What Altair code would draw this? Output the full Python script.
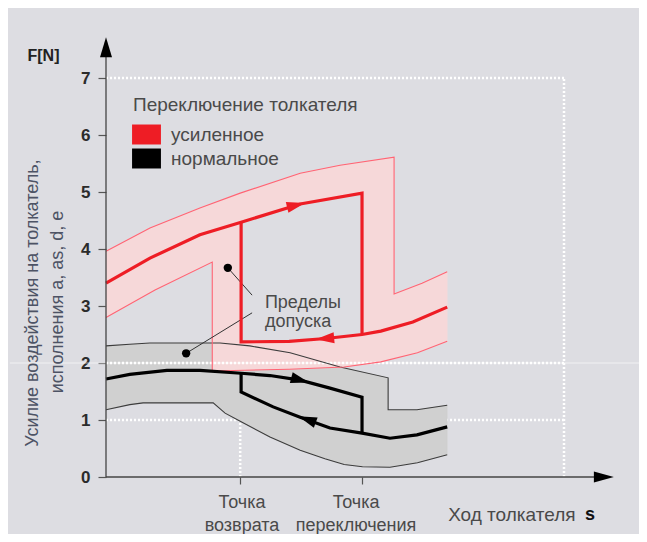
import altair as alt
import pandas as pd

# ---------------- data (s = plunger travel, arbitrary units; F in N) ----------------
S_RETURN = 2.95      # "Точка возврата"
S_SWITCH = 5.59      # "Точка переключения"

# reinforced switching (red) – working curve
RED_UP_S = [0.0, 0.96, 2.05, 2.95, 4.24, 5.59]
RED_UP_F = [3.40, 3.84, 4.25, 4.47, 4.79, 4.98]
RED_LO_S = [2.95, 4.0, 4.8, 5.59, 6.0, 6.7, 7.45]
RED_LO_F = [2.37, 2.38, 2.43, 2.50, 2.56, 2.72, 2.98]
# reinforced – tolerance band limits
RED_TOL_TOP_S = [0.0, 0.96, 2.05, 2.93, 4.24, 5.11, 6.29, 6.29, 6.9, 7.45]
RED_TOL_TOP_F = [3.96, 4.37, 4.72, 4.98, 5.33, 5.47, 5.61, 3.21, 3.40, 3.60]
RED_TOL_BOT_S = [0.0, 1.07, 2.32, 2.32, 4.0, 5.2, 6.0, 6.8, 7.45]
RED_TOL_BOT_F = [2.80, 3.28, 3.77, 1.86, 1.89, 1.93, 2.02, 2.18, 2.38]

# normal switching (black) – working curve
BLK_UP_S = [0.0, 0.52, 1.33, 2.05, 2.95, 3.58, 4.24, 4.89, 5.59]
BLK_UP_F = [1.72, 1.80, 1.87, 1.87, 1.82, 1.78, 1.70, 1.56, 1.40]
BLK_LO_S = [2.95, 3.65, 4.24, 4.89, 5.59, 6.20, 6.79, 7.45]
BLK_LO_F = [1.49, 1.23, 1.05, 0.86, 0.77, 0.68, 0.74, 0.88]
# normal – tolerance band limits
BLK_TOL_TOP_S = [0.0, 0.52, 0.96, 2.49, 3.14, 4.02, 5.11, 6.16, 6.16, 6.79, 7.45]
BLK_TOL_TOP_F = [2.30, 2.33, 2.35, 2.35, 2.30, 2.18, 1.93, 1.74, 1.18, 1.18, 1.26]
BLK_TOL_BOT_S = [0.0, 0.52, 0.81, 2.34, 2.6, 2.93, 3.58, 4.24, 4.78, 5.2, 5.6, 6.2, 6.8, 7.45]
BLK_TOL_BOT_F = [1.18, 1.27, 1.30, 1.30, 1.12, 0.98, 0.70, 0.47, 0.32, 0.22, 0.18, 0.17, 0.25, 0.39]

# direction arrows on the working curves
ARROW_SERIES = ["усиленное", "усиленное", "нормальное", "нормальное"]
ARROW_S = [4.15, 4.78, 4.24, 4.39]
ARROW_F = [4.77, 2.43, 1.70, 1.01]
ARROW_DIR = [346, 175, 15, 200]

# "Пределы допуска" pointers
TOL_DOT_S = [2.66, 1.75]
TOL_DOT_F = [3.67, 2.17]
TOL_END_S = [3.19, 3.19]
TOL_END_F = [3.19, 2.88]

Y_TICKS = [0, 1, 2, 3, 4, 5, 6, 7]
X_TICKS = [2.93, S_SWITCH]
SERIES = ["усиленное", "нормальное"]

# ---------------- styling ----------------
FONT = "Liberation Sans"
BG = "#dddde2"
PINK = "#f6d8d9"
GRAYBAND = "#d0d0d0"
RED = "#ee1d25"
RED_THIN = "#ff6474"
TXT = "#4a4a4a"

XS = alt.Scale(domain=[0, 10], nice=False, zero=False)
YS = alt.Scale(domain=[0, 7], nice=False, zero=False)


def enc_xy():
    return dict(x=alt.X("s:Q", scale=XS), y=alt.Y("f:Q", scale=YS))


def path(ss, ff, **mk):
    df = pd.DataFrame({"s": ss, "f": ff, "i": list(range(len(ss)))})
    return alt.Chart(df).mark_line(interpolate="linear", **mk).encode(
        order=alt.Order("i:Q"), **enc_xy())


def polygon(ss, ff, color):
    df = pd.DataFrame({"s": ss, "f": ff, "i": list(range(len(ss)))})
    return alt.Chart(df).mark_line(interpolate="linear-closed", fill=color, stroke=color,
                                   strokeWidth=0.5, fillOpacity=1).encode(
        order=alt.Order("i:Q"), **enc_xy())


def seg(s1, f1, s2, f2, **mk):
    df = pd.DataFrame({"s": [s1], "f": [f1], "s2": [s2], "f2": [f2]})
    return alt.Chart(df).mark_rule(**mk).encode(x2="s2:Q", y2="f2:Q", **enc_xy())


def label(s, f, txt, **mk):
    df = pd.DataFrame({"s": [s], "f": [f], "t": [txt]})
    base = dict(font=FONT, fontSize=18, color=TXT)
    base.update(mk)
    return alt.Chart(df).mark_text(**base).encode(text="t:N", **enc_xy())


def lookup(ss, ff, s):
    return dict(zip(ss, ff))[s]


layers = []

# axes (ticks + numeric labels) – first layer so its axis definition is used
layers.append(alt.Chart(pd.DataFrame({"s": [0], "f": [0]})).mark_point(opacity=0).encode(
    x=alt.X("s:Q", scale=XS, axis=alt.Axis(values=X_TICKS, title=None, domain=False, grid=False,
                                            labels=False, tickSize=7, tickColor="#555555",
                                            tickWidth=1.2)),
    y=alt.Y("f:Q", scale=YS, axis=alt.Axis(values=Y_TICKS, format="d", title=None, domain=False,
                                            grid=False, tickSize=8, tickColor="#555555",
                                            tickWidth=1.2, labelPadding=8, labelFont=FONT,
                                            labelFontSize=17, labelFontWeight="bold",
                                            labelColor="#2b2b2b"))))

GRID = dict(color="white", strokeWidth=2.5, strokeDash=[2, 2])

# grid lines under the bands
layers.append(seg(0, 7, 10, 7, **GRID))
layers.append(seg(10, 0, 10, 7, **GRID))
layers.append(seg(0, 1, 10, 1, **GRID))
layers.append(seg(2.93, 0, 2.93, 2, **GRID))

# tolerance bands
layers.append(polygon(BLK_TOL_TOP_S + BLK_TOL_BOT_S[::-1], BLK_TOL_TOP_F + BLK_TOL_BOT_F[::-1], GRAYBAND))
layers.append(polygon(RED_TOL_TOP_S + RED_TOL_BOT_S[::-1], RED_TOL_TOP_F + RED_TOL_BOT_F[::-1], PINK))
loop_s = [s for s in RED_UP_S if s >= S_RETURN] + [s for s in RED_LO_S if s <= S_SWITCH][::-1]
loop_f = [f for s, f in zip(RED_UP_S, RED_UP_F) if s >= S_RETURN] + \
         [f for s, f in zip(RED_LO_S, RED_LO_F) if s <= S_SWITCH][::-1]
layers.append(polygon(loop_s, loop_f, BG))

# F = 2 grid line on top of bands
layers.append(seg(-2.1, 2, 11.9, 2, color="white", strokeWidth=1, opacity=0.6))
layers.append(seg(0, 2, 10, 2, **GRID))

# band outlines
layers.append(path(BLK_TOL_TOP_S, BLK_TOL_TOP_F, color="#3c3c3c", strokeWidth=1.1))
layers.append(path(BLK_TOL_BOT_S, BLK_TOL_BOT_F, color="#3c3c3c", strokeWidth=1.1))
layers.append(path(RED_TOL_TOP_S, RED_TOL_TOP_F, color=RED_THIN, strokeWidth=1.1))
layers.append(path(RED_TOL_BOT_S, RED_TOL_BOT_F, color=RED_THIN, strokeWidth=1.1))

# tolerance pointers
for s1, f1, s2, f2 in zip(TOL_DOT_S, TOL_DOT_F, TOL_END_S, TOL_END_F):
    layers.append(seg(s1, f1, s2, f2, color="#333333", strokeWidth=1))
layers.append(alt.Chart(pd.DataFrame({"s": TOL_DOT_S, "f": TOL_DOT_F})).mark_circle(
    size=70, color="black", opacity=1).encode(**enc_xy()))

# working curves
layers.append(path(BLK_UP_S + [S_SWITCH], BLK_UP_F + [lookup(BLK_LO_S, BLK_LO_F, S_SWITCH)],
                   color="black", strokeWidth=3.2, strokeJoin="miter"))
layers.append(path([S_RETURN] + BLK_LO_S, [lookup(BLK_UP_S, BLK_UP_F, S_RETURN)] + BLK_LO_F,
                   color="black", strokeWidth=3.2, strokeJoin="miter"))
layers.append(path(RED_UP_S + [S_SWITCH], RED_UP_F + [lookup(RED_LO_S, RED_LO_F, S_SWITCH)],
                   color=RED, strokeWidth=3.2, strokeJoin="miter"))
layers.append(path([S_RETURN] + RED_LO_S, [lookup(RED_UP_S, RED_UP_F, S_RETURN)] + RED_LO_F,
                   color=RED, strokeWidth=3.2, strokeJoin="miter"))

# arrows + legend
arrow_df = pd.DataFrame({"s": ARROW_S, "f": ARROW_F, "a": ARROW_DIR, "series": ARROW_SERIES})
layers.append(alt.Chart(arrow_df).mark_point(
    shape="M1,0L-1,-0.6L-1,0.6Z", filled=True, size=340, opacity=1, strokeWidth=0).encode(
    angle=alt.Angle("a:Q", scale=None),
    color=alt.Color("series:N", scale=alt.Scale(domain=SERIES, range=[RED, "black"]),
                    legend=alt.Legend(
                        title="Переключение толкателя", orient="none", legendX=27, legendY=18,
                        direction="vertical", titleFont=FONT, titleFontSize=19,
                        titleFontWeight="normal", titleColor=TXT, titlePadding=6, titleLimit=400,
                        labelFont=FONT, labelFontSize=19, labelColor=TXT, labelOffset=11,
                        symbolType="M-1.07,-0.74H1.07V0.74H-1.07Z", symbolSize=729,
                        symbolStrokeWidth=0, symbolOpacity=1, rowPadding=0, padding=0)),
    **enc_xy()))

# axis lines and arrow heads
layers.append(seg(0, 0, 0, 7.5, color="#444444", strokeWidth=1.3))
layers.append(seg(0, 0, 10.8, 0, color="#444444", strokeWidth=1.3))
layers.append(alt.Chart(pd.DataFrame({"s": [0], "f": [7.54]})).mark_point(
    shape="M0,-1L0.6,1L-0.6,1Z", filled=True, size=400, color="black", opacity=1).encode(**enc_xy()))
layers.append(alt.Chart(pd.DataFrame({"s": [10.87], "f": [0]})).mark_point(
    shape="M1,0L-1,-0.55L-1,0.55Z", filled=True, size=400, color="black", opacity=1).encode(**enc_xy()))

# texts
layers.append(label(-1.365, 7.38, "F[N]", fontSize=16, fontWeight="bold", color="#222222"))
layers.append(label(-1.594, 3.05, "Усилие воздействия на толкатель,", angle=270, color="#4d5365"))
layers.append(label(-1.048, 3.07, "исполнения a, as, d, e", angle=270, color="#4d5365"))
layers.append(label(3.47, 3.05, "Пределы", align="left"))
layers.append(label(3.47, 2.72, "допуска", align="left"))
layers.append(label(2.97, -0.456, "Точка"))
layers.append(label(2.97, -0.86, "возврата"))
layers.append(label(5.46, -0.456, "Точка"))
layers.append(label(5.46, -0.86, "переключения"))
layers.append(label(7.47, -0.667, "Ход толкателя", align="left", fontSize=19))
layers.append(label(10.46, -0.667, "s", align="left", fontSize=18, fontWeight="bold", color="#111111"))

chart = alt.layer(*layers).properties(
    width=458, height=399, background=BG,
    autosize=alt.AutoSizeParams(type="none"),
    padding={"left": 98, "top": 70, "right": 75, "bottom": 57},
).configure_view(strokeWidth=0)

chart.save("out.html", embed_options={"renderer": "svg", "actions": False})
